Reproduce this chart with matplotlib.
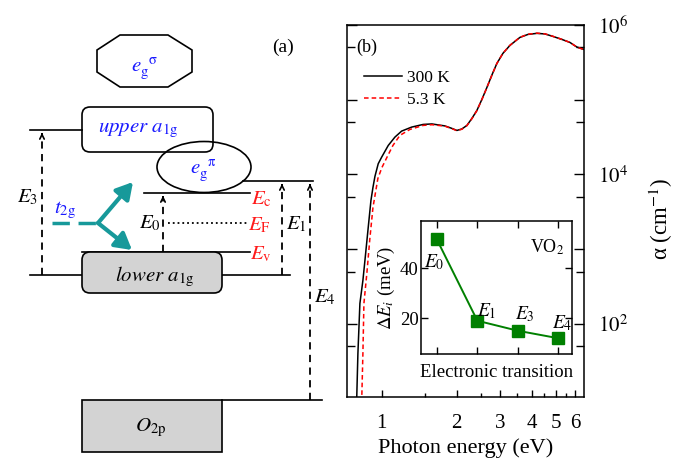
import numpy as np
import matplotlib.pyplot as plt
from matplotlib import patches
from matplotlib.ticker import FixedLocator, FuncFormatter, NullFormatter

plt.rcParams['font.family'] = ['Liberation Serif', 'DejaVu Serif']
plt.rcParams['mathtext.fontset'] = 'stix'

# absorption coefficient, photon energy in eV, alpha in cm^-1
energy_300 = [0.792, 0.803, 0.818, 0.841, 0.857, 0.881, 0.906, 0.923, 0.940, 0.969,
              1.000, 1.063, 1.131, 1.203, 1.320, 1.469, 1.592, 1.795, 1.916, 2.006,
              2.101, 2.201, 2.305, 2.414, 2.528, 2.648, 2.773, 2.904, 3.070, 3.276,
              3.593, 3.870, 4.205, 4.530, 4.875, 5.300, 5.704, 6.085, 6.494]
alpha_300 = [7, 40, 188, 381, 706, 1780, 4490, 6700, 9400, 13900,
             17000, 24400, 31600, 38000, 43000, 46700, 47400, 44600, 41300, 38800,
             40600, 45300, 56200, 71900, 101000, 146000, 214000, 306000, 417000, 533000,
             682000, 748000, 773000, 759000, 704000, 641000, 585000, 507000, 471000]

energy_5 = [0.830, 0.841, 0.849, 0.873, 0.897, 0.923, 0.966, 1.003, 1.050, 1.110,
            1.184, 1.299, 1.469, 1.592, 1.795, 1.916, 2.006,
            2.101, 2.201, 2.305, 2.414, 2.528, 2.648, 2.773, 2.904, 3.070, 3.276,
            3.593, 3.870, 4.205, 4.530, 4.875, 5.300, 5.704, 6.085, 6.494]
alpha_5 = [7, 40, 188, 488, 1390, 3610, 8840, 12400, 16900, 24400,
           33300, 40000, 45300, 46300, 44300, 41000, 38500,
           40300, 45000, 55800, 71500, 100500, 145500, 213000, 306000, 418000, 535000,
           684000, 752000, 778000, 762000, 706000, 642000, 585000, 506000, 469000]

# inset: broadening of each transition
transitions = ['E_0', 'E_1', 'E_3', 'E_4']
delta_e = [51.5, 19.0, 15.0, 12.0]

fig = plt.figure(figsize=(6.78, 4.59), dpi=100)

# ---------------- panel (a): level scheme, drawn in pixel units ----------------
ax_a = fig.add_axes([0, 0, 1, 1])
ax_a.set_xlim(0, 678)
ax_a.set_ylim(459, 0)
ax_a.axis('off')

gray = '#d3d3d3'
teal = '#17999a'
blue = '#1a1aff'
red = '#ff1a1a'

octagon = [(120, 35), (168, 35), (192, 50), (192, 72), (168, 87), (120, 87), (97, 72), (97, 50)]
ax_a.add_patch(patches.Polygon(octagon, closed=True, fill=False, ec='k', lw=1.2))
ax_a.add_patch(patches.FancyBboxPatch((82, 107), 131, 45, boxstyle='round,pad=0,rounding_size=8',
                                      fill=False, ec='k', lw=1.2))
ax_a.add_patch(patches.Ellipse((204, 167), 94, 51, fill=False, ec='k', lw=1.2))
ax_a.add_patch(patches.FancyBboxPatch((82, 252), 140, 41, boxstyle='round,pad=0,rounding_size=8',
                                      fc=gray, ec='k', lw=1.2, zorder=3))
ax_a.add_patch(patches.Rectangle((82, 400), 140, 52, fc=gray, ec='k', lw=1.2, zorder=3))

# levels
ax_a.plot([30, 82], [130, 130], 'k-', lw=1.2)
ax_a.plot([243, 313], [181, 181], 'k-', lw=1.2)
ax_a.plot([144, 250], [193, 193], 'k-', lw=1.2)
ax_a.plot([168, 247], [223, 223], 'k:', lw=1.3)
ax_a.plot([82, 250], [252, 252], 'k-', lw=1.2)
ax_a.plot([30, 290], [275, 275], 'k-', lw=1.2, zorder=2)
ax_a.plot([222, 322], [400, 400], 'k-', lw=1.2)

# dashed transition arrows
for x, y0, y1 in [(42, 275, 130), (163, 252, 193), (282, 275, 181), (310, 400, 181)]:
    ax_a.plot([x, x], [y0, y1 + 4], color='k', lw=1.3, ls=(0, (4, 3)))
    ax_a.annotate('', xy=(x, y1), xytext=(x, y1 + 7),
                  arrowprops=dict(arrowstyle='->', color='k', lw=1.2, mutation_scale=8))

# t2g splitting
ax_a.plot([52, 98], [223, 223], color=teal, lw=2.5, ls=(0, (5, 2.5)))
for tip in [(133, 182), (132, 250)]:
    ax_a.annotate('', xy=tip, xytext=(98, 223),
                  arrowprops=dict(arrowstyle='-|>,head_length=0.7,head_width=0.4', color=teal,
                                  lw=3, mutation_scale=14, shrinkA=0, shrinkB=0))

fs = 15
ax_a.text(283, 47, '(a)', fontsize=14, ha='center', va='center')
ax_a.text(145, 69, r'$e_{\rm g}^{\ \ \mathrm{\sigma}}$', fontsize=fs, color=blue, ha='center', va='center')
ax_a.text(138, 130, r'$upper\ a_{\rm 1g}$', fontsize=fs, color=blue, ha='center', va='center')
ax_a.text(203, 171, r'$e_{\rm g}^{\ \ \mathrm{\pi}}$', fontsize=fs, color=blue, ha='center', va='center')
ax_a.text(155, 277, r'$lower\ a_{\rm 1g}$', fontsize=fs, color='k', ha='center', va='center', zorder=4)
ax_a.text(151, 428, r'$O_{\rm 2p}$', fontsize=fs, color='k', ha='center', va='center', zorder=4)
ax_a.text(65, 210, r'$t_{\rm 2g}$', fontsize=fs, color=blue, ha='center', va='center')
ax_a.text(28, 197, r'$E_3$', fontsize=fs, ha='center', va='center')
ax_a.text(150, 223, r'$E_0$', fontsize=fs, ha='center', va='center')
ax_a.text(296, 224, r'$E_1$', fontsize=fs, ha='center', va='center')
ax_a.text(325, 297, r'$E_4$', fontsize=fs, ha='center', va='center')
ax_a.text(261, 199, r'$E_{\rm c}$', fontsize=fs, color=red, ha='center', va='center')
ax_a.text(259, 225, r'$E_{\rm F}$', fontsize=fs, color=red, ha='center', va='center')
ax_a.text(261, 254, r'$E_{\rm v}$', fontsize=fs, color=red, ha='center', va='center')

# ---------------- panel (b): absorption spectra ----------------
ax = fig.add_axes([347 / 678, 1 - 397 / 459, 237 / 678, 372 / 459])
ax.plot(energy_300, alpha_300, color='k', lw=1.1, label='300 K')
ax.plot(energy_5, alpha_5, color='red', lw=1.1, ls=(0, (3, 2)), label='5.3 K')
ax.set_xscale('log')
ax.set_yscale('log')
ax.set_xlim(0.726, 6.5)
ax.set_ylim(10.5, 1e6)

ax.xaxis.set_major_locator(FixedLocator([1, 2, 3, 4, 5, 6]))
ax.xaxis.set_major_formatter(FuncFormatter(lambda v, p: '%d' % round(v)))
ax.xaxis.set_minor_locator(FixedLocator([1.5, 2.5, 3.5, 4.5, 5.5]))
ax.xaxis.set_minor_formatter(NullFormatter())


def decade_label(v, p):
    n = int(round(np.log10(v)))
    return r'$10^{%d}$' % n if n % 2 == 0 else ''


ax.yaxis.set_major_locator(FixedLocator([10.0 ** n for n in range(1, 7)]))
ax.yaxis.set_major_formatter(FuncFormatter(decade_label))
ax.yaxis.set_minor_locator(FixedLocator([5 * 10.0 ** n for n in range(1, 6)]))
ax.yaxis.set_minor_formatter(NullFormatter())

ax.tick_params(axis='x', which='major', direction='in', length=5, width=1, labelsize=15, pad=12,
               top=False)
ax.tick_params(axis='x', which='minor', direction='in', length=3, width=1, top=False)
ax.tick_params(axis='y', which='both', direction='in', width=1, labelsize=15, pad=10,
               left=True, right=True, labelleft=False, labelright=True)
ax.tick_params(axis='y', which='major', length=7)
ax.tick_params(axis='y', which='minor', length=6)
for s in ax.spines.values():
    s.set_linewidth(1.1)

ax.set_xlabel('Photon energy (eV)', fontsize=16, labelpad=4)
ax.yaxis.set_label_position('right')
ax.set_ylabel(r'α (cm$^{-1}$)', fontsize=16.5)
ax.yaxis.set_label_coords(1.266, 0.478)
ax.text(0.04, 0.94, '(b)', transform=ax.transAxes, fontsize=13, ha='left', va='center')
ax.legend(loc='upper left', bbox_to_anchor=(0.07, 0.88), frameon=False, fontsize=12.5,
          handlelength=2.2, handletextpad=0.3, labelspacing=0.35, borderpad=0, borderaxespad=0)

# ---------------- inset ----------------
ins = fig.add_axes([420.7 / 678, 1 - 354 / 459, 151 / 678, 133 / 459])
idx = np.arange(len(transitions))
ins.plot(idx, delta_e, color='green', lw=1.4, marker='s', ms=8, mfc='green', mec='green')
ins.set_xlim(-0.4, 3.33)
ins.set_ylim(5.7, 58.9)
ins.set_xticks(idx)
ins.set_xticklabels([])
ins.set_yticks([20, 40])
ins.tick_params(direction='in', length=5, width=1, labelsize=13.5, pad=1.5,
                top=True, right=True)
for s in ins.spines.values():
    s.set_linewidth(1.1)
ins.set_xlabel('Electronic transition', fontsize=13.5, labelpad=6)
ins.set_ylabel(r'$\mathit{\Delta E_i}$ (meV)', fontsize=13.5, labelpad=2)
ins.text(0.84, 0.80, r'VO$_2$', transform=ins.transAxes, fontsize=13, ha='center', va='center')

offsets = [(-2, -16), (7, 7), (5, 12), (3, 11)]
for i, (name, off) in enumerate(zip(transitions, offsets)):
    ins.annotate(r'$%s$' % name, (idx[i], delta_e[i]), xytext=off, textcoords='offset points',
                 fontsize=14, ha='center', va='center')

fig.savefig('out.png', dpi=100)
